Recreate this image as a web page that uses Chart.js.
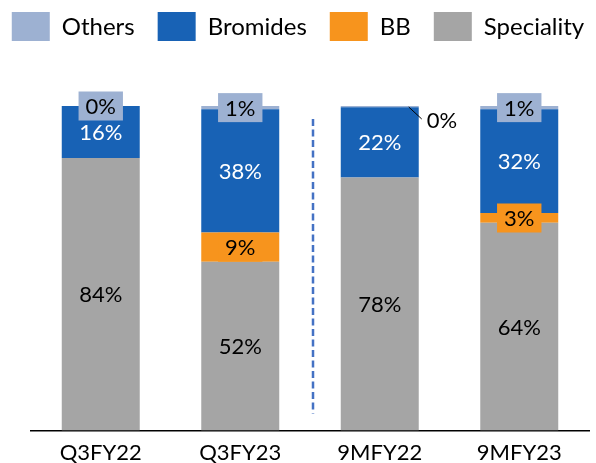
<!DOCTYPE html>
<html>
<head>
<meta charset="utf-8">
<script src="https://cdn.jsdelivr.net/npm/chart.js@4/dist/chart.umd.min.js"></script>
<style>
  html, body { margin: 0; padding: 0; background: #fff; }
</style>
</head>
<body>
<canvas id="mixChart" width="596" height="463"></canvas>
<script>
// ── DATA (share of revenue, %) ────────────────────────
const periods    = ['Q3FY22', 'Q3FY23', '9MFY22', '9MFY23'];
const speciality = [84, 52, 78, 64];
const bb         = [null, 9, null, 3];     // no BB segment in the first and third bar
const bromides   = [16, 38, 21.6, 32];
const others     = [0, 1, 0.4, 1];

const COLORS = {
  others:     '#9DB1D2',
  bromides:   '#1862B5',
  bb:         '#F7941D',
  speciality: '#A5A5A5'
};
const FONT = 'Lato';


// ── PLUGIN: legend across the top (Others first) ──────
const topLegend = {
  id: 'topLegend',
  afterDraw(chart) {
    const ctx = chart.ctx;
    const items = chart.data.datasets.slice().reverse();
    const boxW = 38, boxH = 29, textGap = 12, itemGap = 23, yMid = 26.5;

    ctx.save();
    ctx.font = '24px ' + FONT;
    ctx.textBaseline = 'middle';
    ctx.textAlign = 'left';

    const widths = items.map(d => boxW + textGap + ctx.measureText(d.label).width);
    const total = widths.reduce((s, w) => s + w, 0) + itemGap * (items.length - 1);
    let x = (chart.width - total) / 2;

    items.forEach((d, i) => {
      ctx.fillStyle = d.backgroundColor;
      ctx.fillRect(x, yMid - boxH / 2, boxW, boxH);
      ctx.fillStyle = '#000';
      ctx.fillText(d.label, x + boxW + textGap, yMid + 1);
      x += widths[i] + itemGap;
    });
    ctx.restore();
  }
};


// ── PLUGIN: dashed divider between quarter and 9M bars ─
const divider = {
  id: 'divider',
  beforeDatasetsDraw(chart) {
    const { ctx, chartArea } = chart;
    const x = chart.scales.x.getPixelForValue(1.5) + 3;
    ctx.save();
    ctx.strokeStyle = '#4472C4';
    ctx.lineWidth = 2.5;
    ctx.setLineDash([7, 3.5]);
    ctx.beginPath();
    ctx.moveTo(x, chartArea.top + 13);
    ctx.lineTo(x, chartArea.bottom - 17);
    ctx.stroke();
    ctx.restore();
  }
};


// ── PLUGIN: % labels on each segment ──────────────────
const segmentLabels = {
  id: 'segmentLabels',
  afterDatasetsDraw(chart) {
    const ctx = chart.ctx;
    ctx.save();
    ctx.font = '22px ' + FONT;
    ctx.textBaseline = 'middle';

    chart.data.datasets.forEach((ds, di) => {
      const meta = chart.getDatasetMeta(di);
      meta.data.forEach((bar, i) => {
        const v = ds.data[i];
        if (v === null || v === undefined) return;
        const text = Math.round(v) + '%';
        const yMid = (bar.y + bar.base) / 2;

        // tiny slice drawn outside with a leader line
        if (ds.outsideAt === i) {
          const right = bar.x + bar.width / 2;
          ctx.strokeStyle = '#000';
          ctx.lineWidth = 1;
          ctx.beginPath();
          ctx.moveTo(right - 10, bar.y + 1);
          ctx.lineTo(right + 3, bar.y + 13);
          ctx.stroke();
          ctx.fillStyle = '#000';
          ctx.textAlign = 'left';
          ctx.fillText(text, right + 8, bar.y + 15);
          return;
        }

        ctx.textAlign = 'center';
        if (ds.boxedLabel) {
          const w = ctx.measureText(text).width + 14;
          ctx.fillStyle = ds.backgroundColor;
          ctx.fillRect(bar.x - w / 2, yMid - 14.5, w, 29);
        }
        ctx.fillStyle = ds.labelColor;
        ctx.fillText(text, bar.x, yMid + 1);
      });
    });
    ctx.restore();
  }
};


// ── BUILD CHART ───────────────────────────────────────
function buildChart() {
  const ctx = document.getElementById('mixChart').getContext('2d');

  new Chart(ctx, {
    type: 'bar',
    data: {
      labels: periods,
      datasets: [
        { label: 'Speciality', data: speciality, backgroundColor: COLORS.speciality, labelColor: '#000' },
        { label: 'BB',         data: bb,         backgroundColor: COLORS.bb,         labelColor: '#000', boxedLabel: true },
        { label: 'Bromides',   data: bromides,   backgroundColor: COLORS.bromides,   labelColor: '#fff' },
        { label: 'Others',     data: others,     backgroundColor: COLORS.others,     labelColor: '#000', boxedLabel: true, outsideAt: 2 }
      ]
    },
    options: {
      responsive: false,
      animation: false,
      layout: { padding: { top: 106, left: 31, right: 7, bottom: -12 } },
      datasets: {
        bar: { categoryPercentage: 1, barPercentage: 0.559, borderWidth: 0 }
      },
      plugins: {
        legend: { display: false },
        tooltip: { enabled: false }
      },
      scales: {
        x: {
          stacked: true,
          grid: { display: false, drawTicks: false },
          border: { display: true, color: '#000', width: 1.5 },
          ticks: { color: '#000', padding: 9, font: { family: FONT, size: 22 } }
        },
        y: {
          stacked: true,
          min: 0,
          max: 100,
          display: false
        }
      }
    },
    plugins: [divider, segmentLabels, topLegend]
  });
}

window.onload = buildChart;
</script>
</body>
</html>
